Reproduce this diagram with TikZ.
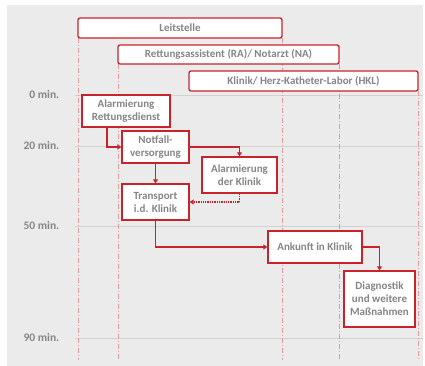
\documentclass[tikz,border=0pt]{standalone}
\usepackage{fontspec}
\setmainfont{Carlito}
\usetikzlibrary{arrows.meta}
\definecolor{bg}{HTML}{EBEBEB}
\definecolor{boxred}{HTML}{C8232B}
\definecolor{lanered}{HTML}{E39A9C}
\definecolor{txtgray}{HTML}{858585}
\definecolor{gridgray}{HTML}{D2D2D2}
\tikzset{
  lane/.style={draw=boxred, line width=1.3pt, fill=white, rounded corners=2pt,
    font=\bfseries\fontsize{11}{13}\selectfont, text=txtgray, inner sep=0pt},
  stepbox/.style={draw=boxred, line width=1.3pt, fill=white, align=center,
    font=\bfseries\fontsize{11}{13}\selectfont, text=txtgray, inner sep=0pt},
  flow/.style={draw=boxred, line width=1.3pt, -{Triangle[width=5pt,length=4pt]}},
  lanesep/.style={draw=lanered, line width=0.8pt, dash pattern=on 5pt off 2pt on 1pt off 2pt},
  tick/.style={font=\bfseries\fontsize{11.5}{13}\selectfont, text=txtgray, anchor=east}
}
\begin{document}
\begin{tikzpicture}[x=1pt, y=-1pt]
      \useasboundingbox (0,0) rectangle (425,366);
      \fill[bg] (7,5) rectangle (423,366);
      \draw[gridgray, line width=0.8pt]
        (75,95) node[tick, xshift=-12pt] (t0){0 min.} -- (423,95)
        (75,146) node[tick, xshift=-12pt] (t20){20 min.} -- (423,146)
        (75,226) node[tick, xshift=-12pt] (t50){50 min.} -- (423,226)
        (75,338) node[tick, xshift=-12pt] (t90){90 min.} -- (423,338);
      \begin{scope}[lanesep]
        \draw (78,38) -- (78,360);
        \draw (118,64) -- (118,360);
        \draw (282,38) -- (282,360);
        \draw (339,64) -- (339,360);
        \draw (418,91) -- (418,360);
      \end{scope}
      \draw
        (180,28) node[lane, minimum width=204pt, minimum height=20pt] (lst){Leitstelle}
        (228.5,54.5) node[lane, minimum width=221pt, minimum height=19pt] (ra){Rettungsassistent (RA)/ Notarzt (NA)}
        (303.5,81) node[lane, minimum width=229pt, minimum height=20pt] (hkl){Klinik/ Herz-Katheter-Labor (HKL)};
      \draw
        (126,111) node[stepbox, minimum width=88pt, minimum height=32pt] (ard){Alarmierung\\Rettungsdienst}
        (155.5,147) node[stepbox, minimum width=67pt, minimum height=32pt] (nv){Notfall-\\versorgung}
        (239.5,175) node[stepbox, minimum width=75pt, minimum height=36pt] (adk){Alarmierung\\der Klinik}
        (155.5,202) node[stepbox, minimum width=67pt, minimum height=36pt] (tr){Transport\\i.d. Klinik}
        (315,247) node[stepbox, minimum width=94pt, minimum height=32pt] (ak){Ankunft in Klinik}
        (379.5,299) node[stepbox, minimum width=71pt, minimum height=56pt] (dg){Diagnostik\\und weitere\\Maßnahmen};
      \begin{scope}[flow]
        \draw ([xshift=-19pt]ard.south) |- (nv.west);
        \draw (nv.east) -| (adk.north);
        \draw (nv.south) -- (tr.north);
        \draw[densely dotted] (adk.south) |- (tr.east);
        \draw (tr.south) |- (ak.west);
        \draw (ak.east) -| (dg.north);
      \end{scope}
    \end{tikzpicture}
\end{document}
